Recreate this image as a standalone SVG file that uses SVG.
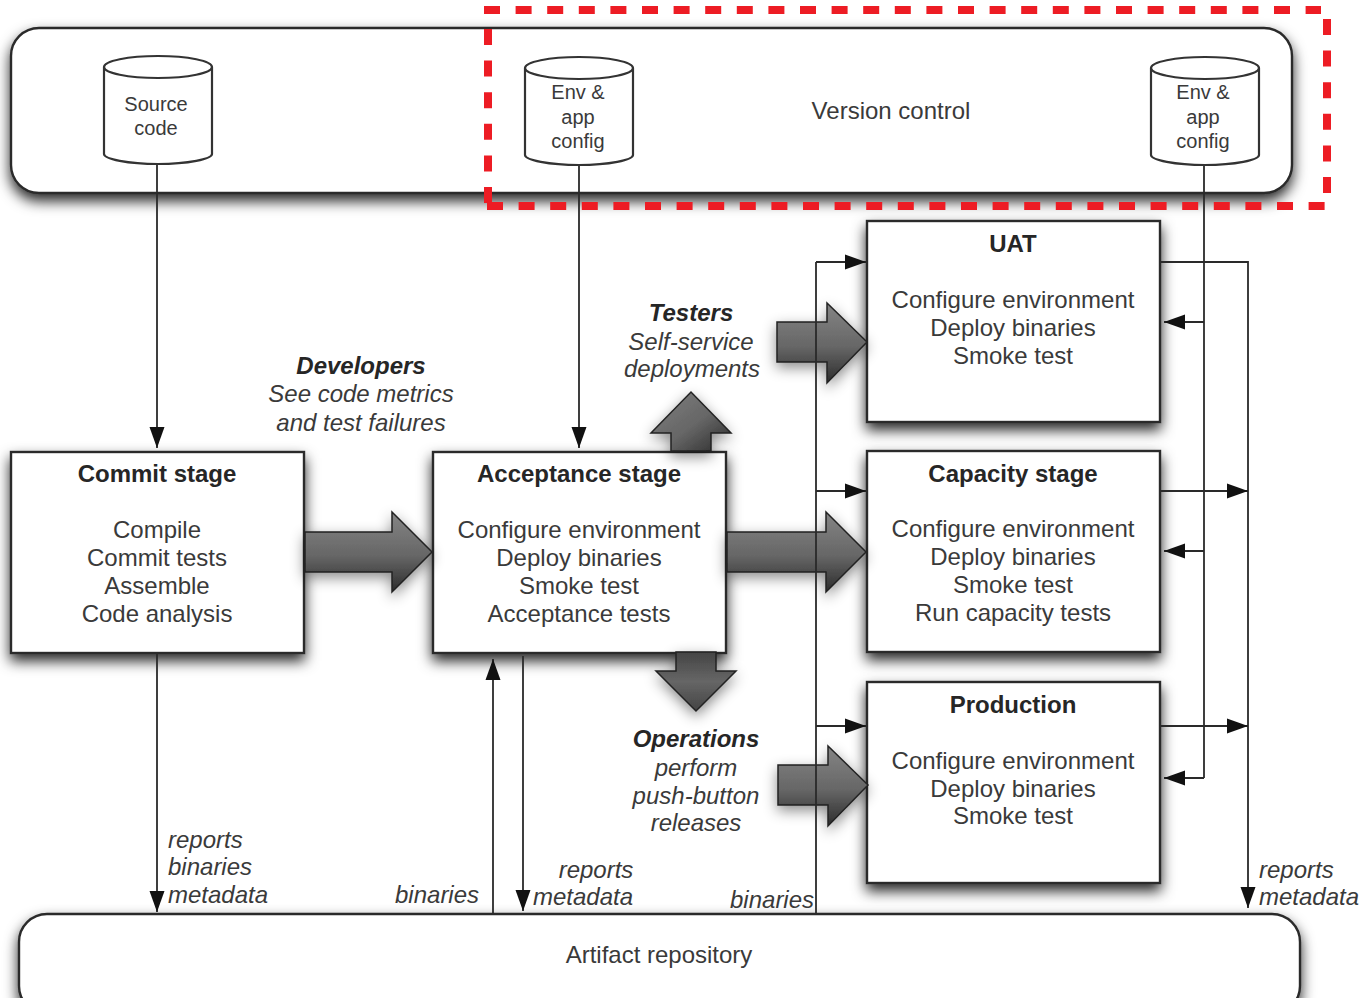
<svg xmlns="http://www.w3.org/2000/svg" width="1363" height="998" viewBox="0 0 1363 998">
<style>
.t{font-family:"Liberation Sans",Arial,sans-serif;font-size:24px;fill:#3a3a3a;text-anchor:middle}
.b{font-weight:bold;fill:#262626}
.i{font-style:italic}
.s{font-size:20px}
.l{text-anchor:start}
.box{fill:#fff;stroke:#2a2a2a;stroke-width:2.4;filter:url(#sh)}
.cyl{fill:#fff;stroke:#333;stroke-width:2.2}
.c{fill:none;stroke:#2a2a2a;stroke-width:1.8}
.ar{stroke:#222;stroke-width:1.5;filter:url(#sa)}
.d{fill:none;stroke:#ed1c24;stroke-width:8;stroke-dasharray:16 15.6}
</style>
<defs>
<linearGradient id="g" x1="0" y1="0" x2="0" y2="1"><stop offset="0" stop-color="#858585"/><stop offset=".55" stop-color="#666"/><stop offset="1" stop-color="#2c2c2c"/></linearGradient>
<linearGradient id="gu" x1="0" y1="0" x2="1" y2="1"><stop offset="0" stop-color="#808080"/><stop offset=".55" stop-color="#666"/><stop offset="1" stop-color="#2a2a2a"/></linearGradient>
<linearGradient id="gd" x1="0" y1="0" x2="0" y2="1"><stop offset="0" stop-color="#444"/><stop offset=".5" stop-color="#666"/><stop offset="1" stop-color="#444"/></linearGradient>
<filter id="sh" x="-10%" y="-10%" width="120%" height="135%"><feDropShadow dx="0" dy="7" stdDeviation="7" flood-color="#000" flood-opacity=".85"/></filter>
<filter id="sa" x="-30%" y="-30%" width="160%" height="170%"><feDropShadow dx="0" dy="5" stdDeviation="7" flood-color="#000" flood-opacity=".45"/></filter>
<marker id="m" markerUnits="userSpaceOnUse" markerWidth="22" markerHeight="18" refX="21" refY="9" orient="auto"><path d="M0 1.5L21 9L0 16.5Z" fill="#111"/></marker>
</defs>

<g id="version-control">
<rect class="box" x="11" y="28" width="1281" height="165" rx="28"/>
<text class="t" x="891" y="119">Version control</text>
</g>
<g id="artifact-repository">
<rect class="box" x="19" y="914" width="1281" height="100" rx="28"/>
<text class="t" x="659" y="963">Artifact repository</text>
</g>

<g id="source-code">
<path class="cyl" d="M104 67V154C104 159 128 164 158 164S212 159 212 154V67C212 61 188 56 158 56S104 61 104 67C104 73 128 78 158 78S212 73 212 67"/>
<text class="t s" x="156" y="111">Source</text><text class="t s" x="156" y="135">code</text>
</g>
<g id="env-config-1">
<path class="cyl" d="M525 68V155C525 160 549 165 579 165S633 160 633 155V68C633 62 609 57 579 57S525 62 525 68C525 74 549 79 579 79S633 74 633 68"/>
<text class="t s" x="578" y="99">Env &amp;</text><text class="t s" x="578" y="124">app</text><text class="t s" x="578" y="148">config</text>
</g>
<g id="env-config-2">
<path class="cyl" d="M1151 68V155C1151 160 1175 165 1205 165S1259 160 1259 155V68C1259 62 1235 57 1205 57S1151 62 1151 68C1151 74 1175 79 1205 79S1259 74 1259 68"/>
<text class="t s" x="1203" y="99">Env &amp;</text><text class="t s" x="1203" y="124">app</text><text class="t s" x="1203" y="148">config</text>
</g>

<g id="commit-stage">
<rect class="box" x="11" y="452" width="293" height="201"/>
<text class="t b" x="157" y="482">Commit stage</text>
<text class="t" x="157" y="538">Compile</text><text class="t" x="157" y="566">Commit tests</text><text class="t" x="157" y="594">Assemble</text><text class="t" x="157" y="622">Code analysis</text>
</g>
<g id="acceptance-stage">
<rect class="box" x="433" y="452" width="293" height="201"/>
<text class="t b" x="579" y="482">Acceptance stage</text>
<text class="t" x="579" y="538">Configure environment</text><text class="t" x="579" y="566">Deploy binaries</text><text class="t" x="579" y="594">Smoke test</text><text class="t" x="579" y="622">Acceptance tests</text>
</g>
<g id="uat">
<rect class="box" x="867" y="221" width="293" height="201"/>
<text class="t b" x="1013" y="252">UAT</text>
<text class="t" x="1013" y="308">Configure environment</text><text class="t" x="1013" y="336">Deploy binaries</text><text class="t" x="1013" y="364">Smoke test</text>
</g>
<g id="capacity-stage">
<rect class="box" x="867" y="451" width="293" height="201"/>
<text class="t b" x="1013" y="482">Capacity stage</text>
<text class="t" x="1013" y="537">Configure environment</text><text class="t" x="1013" y="565">Deploy binaries</text><text class="t" x="1013" y="593">Smoke test</text><text class="t" x="1013" y="621">Run capacity tests</text>
</g>
<g id="production">
<rect class="box" x="867" y="682" width="293" height="201"/>
<text class="t b" x="1013" y="713">Production</text>
<text class="t" x="1013" y="769">Configure environment</text><text class="t" x="1013" y="797">Deploy binaries</text><text class="t" x="1013" y="824">Smoke test</text>
</g>

<g id="block-arrows">
<path class="ar" fill="url(#g)" d="M305 532H392V512L432 552L392 592V572H305Z"/>
<path class="ar" fill="url(#g)" d="M727 532H826V512L866 552L826 592V572H727Z"/>
<path class="ar" fill="url(#g)" d="M777 322H827V303L867 342L827 383V362H777Z"/>
<path class="ar" fill="url(#g)" d="M778 765H828V746L868 785L828 826V805H778Z"/>
<path class="ar" fill="url(#gu)" d="M671 451V433H651L691 392L731 433H711V451Z"/>
<path class="ar" fill="url(#gd)" d="M676 652V671H656L696 711L736 671H716V652Z"/>
</g>

<g id="connectors">
<path class="c" marker-end="url(#m)" d="M157 165V448"/>
<path class="c" marker-end="url(#m)" d="M579 166V448"/>
<path class="c" marker-end="url(#m)" d="M157 654V912"/>
<path class="c" marker-end="url(#m)" d="M493 913V659"/>
<path class="c" marker-end="url(#m)" d="M523 656V911"/>
<path class="c" d="M816 913V262"/>
<path class="c" marker-end="url(#m)" d="M816 262H866"/>
<path class="c" marker-end="url(#m)" d="M816 491H866"/>
<path class="c" marker-end="url(#m)" d="M816 726H866"/>
<path class="c" d="M1204 166V778"/>
<path class="c" marker-end="url(#m)" d="M1204 322H1164"/>
<path class="c" marker-end="url(#m)" d="M1204 551H1164"/>
<path class="c" marker-end="url(#m)" d="M1204 778H1164"/>
<path class="c" marker-end="url(#m)" d="M1161 262H1248V908"/>
<path class="c" marker-end="url(#m)" d="M1161 491H1248"/>
<path class="c" marker-end="url(#m)" d="M1161 726H1248"/>
</g>

<g id="labels">
<text class="t i b" x="361" y="374">Developers</text>
<text class="t i" x="361" y="402">See code metrics</text>
<text class="t i" x="361" y="431">and test failures</text>
<text class="t i b" x="691" y="321">Testers</text>
<text class="t i" x="691" y="350">Self-service</text>
<text class="t i" x="692" y="377">deployments</text>
<text class="t i b" x="696" y="747">Operations</text>
<text class="t i" x="696" y="776">perform</text>
<text class="t i" x="696" y="804">push-button</text>
<text class="t i" x="696" y="831">releases</text>
<text class="t i l" x="168" y="848">reports</text>
<text class="t i l" x="168" y="875">binaries</text>
<text class="t i l" x="168" y="903">metadata</text>
<text class="t i l" x="395" y="903">binaries</text>
<text class="t i" x="596" y="878">reports</text>
<text class="t i l" x="533" y="905">metadata</text>
<text class="t i l" x="730" y="908">binaries</text>
<text class="t i l" x="1259" y="878">reports</text>
<text class="t i l" x="1259" y="905">metadata</text>
</g>

<g id="highlight">
<path class="d" d="M484 10H1321"/>
<path class="d" d="M1327 19V194"/>
<path class="d" d="M487 206H1325"/>
<path class="d" d="M488 29V203"/>
</g>
</svg>
